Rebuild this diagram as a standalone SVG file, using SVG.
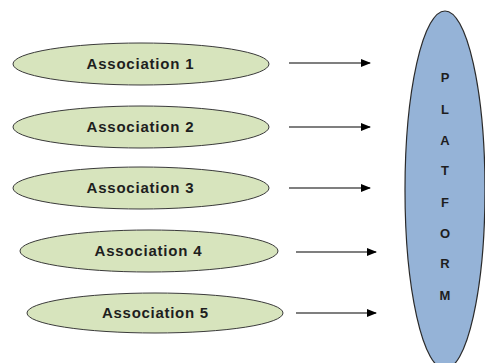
<svg xmlns="http://www.w3.org/2000/svg" width="485" height="363" viewBox="0 0 485 363">
<style>
.assoc{fill:#d7e4bd;stroke:#3a3a3a;stroke-width:1}
.plat{fill:#95b3d7;stroke:#2a2a2a;stroke-width:1.2}
.lbl{font-family:"Liberation Sans",Arial,sans-serif;font-weight:bold;font-size:15px;fill:#1e1e1e;text-anchor:middle}
.let{font-family:"Liberation Sans",Arial,sans-serif;font-weight:bold;font-size:13px;fill:#1e1e1e;text-anchor:middle}
.con{stroke:#000;stroke-width:1.2;fill:none;marker-end:url(#ah)}
</style>
<defs>
<marker id="ah" markerWidth="10" markerHeight="8" refX="9" refY="4" orient="auto" markerUnits="userSpaceOnUse">
<path d="M0,0 L10,4 L0,8 Z" fill="#000"/>
</marker>
</defs>
<rect width="485" height="363" fill="#fff"/>
<g id="platform">
<ellipse class="plat" cx="445" cy="190" rx="40" ry="179"/>
<text class="let" x="445" y="82">P</text>
<text class="let" x="445" y="114">L</text>
<text class="let" x="445" y="145">A</text>
<text class="let" x="445" y="175">T</text>
<text class="let" x="445" y="207">F</text>
<text class="let" x="445" y="238">O</text>
<text class="let" x="445" y="268">R</text>
<text class="let" x="445" y="300">M</text>
</g>
<g id="assoc1">
<ellipse class="assoc" cx="141" cy="64" rx="128" ry="21"/>
<text class="lbl" x="140" y="69" textLength="107" lengthAdjust="spacing">Association 1</text>
</g>
<g id="assoc2">
<ellipse class="assoc" cx="141" cy="127" rx="128" ry="21"/>
<text class="lbl" x="140" y="132" textLength="107" lengthAdjust="spacing">Association 2</text>
</g>
<g id="assoc3">
<ellipse class="assoc" cx="141" cy="188" rx="128" ry="21"/>
<text class="lbl" x="140" y="193" textLength="107" lengthAdjust="spacing">Association 3</text>
</g>
<g id="assoc4">
<ellipse class="assoc" cx="149" cy="251" rx="129" ry="21"/>
<text class="lbl" x="148" y="256" textLength="107" lengthAdjust="spacing">Association 4</text>
</g>
<g id="assoc5">
<ellipse class="assoc" cx="155" cy="313" rx="128" ry="20"/>
<text class="lbl" x="155" y="318" textLength="106" lengthAdjust="spacing">Association 5</text>
</g>
<g id="connectors">
<line class="con" x1="289" y1="63" x2="370" y2="63"/>
<line class="con" x1="289" y1="127" x2="370" y2="127"/>
<line class="con" x1="289" y1="188" x2="370" y2="188"/>
<line class="con" x1="296" y1="252" x2="376" y2="252"/>
<line class="con" x1="296" y1="313" x2="376" y2="313"/>
</g>
</svg>
